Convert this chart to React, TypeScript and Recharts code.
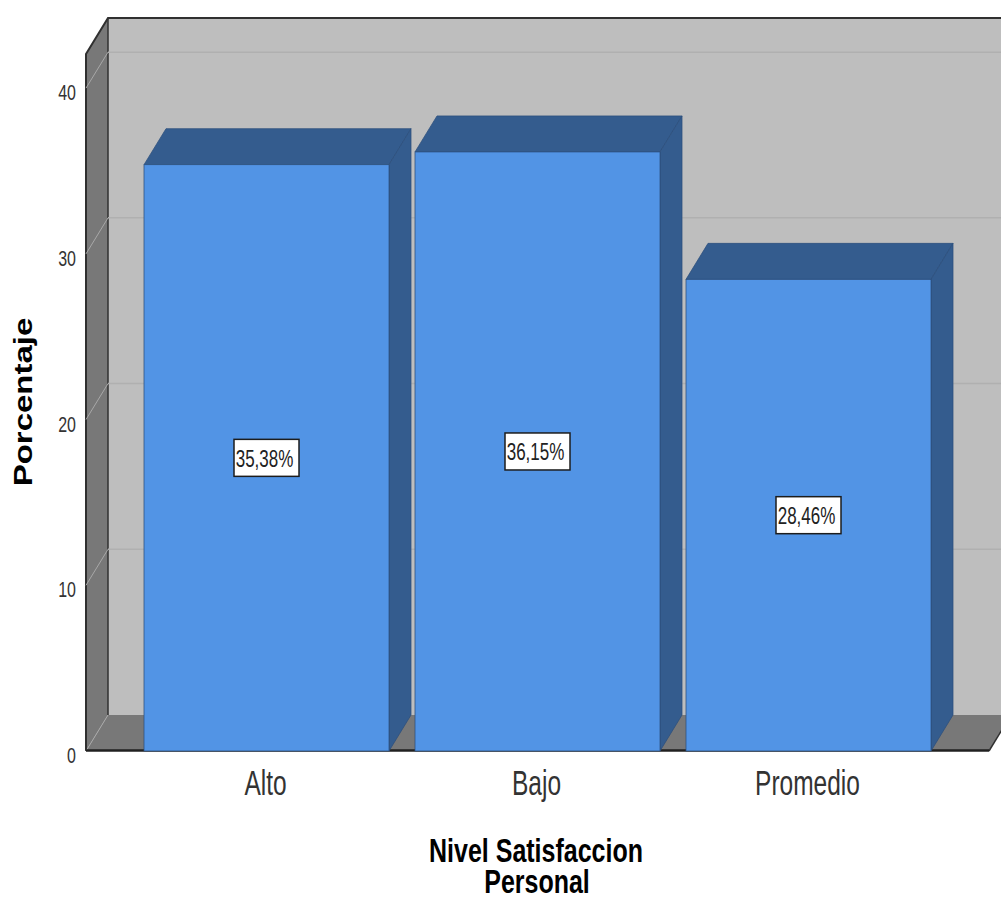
import { Bar, BarChart, ReferenceArea, XAxis, YAxis } from "recharts";

const categories = ["Alto", "Bajo", "Promedio"];
const porcentaje = [35.38, 36.15, 28.46];
const yTicks = [0, 10, 20, 30, 40];
const gridValues = [10, 20, 30, 40];

const FONT = "'Liberation Sans', Arial, sans-serif";
const DX = 22;
const DY = 36;
const PAD = 45;
const Y_MAX = 42.06;
const STRETCH = 1.42;
const TITLE_STRETCH = 1.34;

const data = categories.map((name, i) => ({ name, v: porcentaje[i] }));

// Back wall, side wall and floor of the fake 3D box. The reference area only spans
// the padded band range, so PAD is added back on both sides.
function Walls({ x: ax, y, width: aw, height }: any) {
  const x = ax - PAD;
  const width = aw + PAD * 2;
  const bottom = y + height;
  const right = x + width;
  return (
    <g>
      <rect x={x + DX} y={y - DY} width={width} height={height} fill="#BEBEBE" />
      <polygon points={`${x},${y} ${x + DX},${y - DY} ${x + DX},${bottom - DY} ${x},${bottom}`} fill="#787878" />
      <polygon points={`${x},${bottom} ${x + DX},${bottom - DY} ${right + DX},${bottom - DY} ${right},${bottom}`} fill="#787878" />
      <path d={`M${x},${bottom} V${y} L${x + DX},${y - DY} H${right + DX}`} fill="none" stroke="#303030" strokeWidth={2} />
      <line x1={x + DX} y1={y - DY} x2={x + DX} y2={bottom - DY} stroke="#303030" strokeWidth={1.5} />
      <line x1={x} y1={bottom} x2={x + DX} y2={bottom - DY} stroke="#A8A8A8" strokeWidth={1} />
      <line x1={right} y1={bottom} x2={right + DX} y2={bottom - DY} stroke="#303030" strokeWidth={1.5} />
      <line x1={x} y1={bottom - 0.5} x2={right} y2={bottom - 0.5} stroke="#202020" strokeWidth={2.5} />
    </g>
  );
}

// Grid line for the lower edge of a reference area, so it stays behind the bars
function GridOnWall({ x: ax, y, width: aw, height }: any) {
  const x = ax - PAD;
  const right = ax + aw + PAD;
  const gy = y + height;
  return (
    <g>
      <line x1={x} y1={gy} x2={x + DX} y2={gy - DY} stroke="#A8A8A8" strokeWidth={1} />
      <line x1={x + DX} y1={gy - DY} x2={right + DX} y2={gy - DY} stroke="#B0B0B0" strokeWidth={1.5} />
    </g>
  );
}

function Box3D({ x, y, width, height }: any) {
  const r = x + width;
  const b = y + height;
  return (
    <g stroke="#2C4F7C" strokeWidth={0.75}>
      <polygon points={`${x},${y} ${x + DX},${y - DY} ${r + DX},${y - DY} ${r},${y}`} fill="#345C8E" />
      <polygon points={`${r},${y} ${r + DX},${y - DY} ${r + DX},${b - DY} ${r},${b}`} fill="#345C8E" />
      <rect x={x} y={y} width={width} height={height} fill="#5294E5" />
    </g>
  );
}

function ValueBox({ x, y, width, height, value }: any) {
  const cx = x + width / 2;
  const cy = y + height / 2;
  return (
    <g>
      <rect x={cx - 32.5} y={cy - 18.5} width={65} height={37} fill="#fff" stroke="#1c1c1c" strokeWidth={1.5} />
      <g transform={`translate(${cx - 2},${cy + 9}) scale(1,${STRETCH})`}>
        <text textAnchor="middle" fontFamily={FONT} fontSize={17} fill="#222">
          {value.toFixed(2).replace(".", ",") + "%"}
        </text>
      </g>
    </g>
  );
}

function XTick({ x, payload }: any) {
  return (
    <g transform={`translate(${x - 1},795) scale(1,${STRETCH})`}>
      <text textAnchor="middle" fontFamily={FONT} fontSize={24.5} fill="#333">{payload.value}</text>
    </g>
  );
}

function YTick({ y, payload }: any) {
  return (
    <g transform={`translate(76,${y + 12}) scale(1,${STRETCH})`}>
      <text textAnchor="end" fontFamily={FONT} fontSize={16} fill="#333">{payload.value}</text>
    </g>
  );
}

function Titles() {
  return (
    <g fontFamily={FONT} fontWeight="bold" fill="#000">
      <g transform={`translate(536,862) scale(1,${TITLE_STRETCH})`}>
        <text textAnchor="middle" fontSize={25}>Nivel Satisfaccion</text>
      </g>
      <g transform={`translate(537,893) scale(1,${TITLE_STRETCH})`}>
        <text textAnchor="middle" fontSize={25}>Personal</text>
      </g>
      <g transform={`translate(32,402) rotate(-90) scale(1.27,1)`}>
        <text textAnchor="middle" fontSize={26}>Porcentaje</text>
      </g>
    </g>
  );
}

export default function App() {
  return (
    <div style={{ position: "absolute", left: 0, top: 0, width: 1001, height: 898, background: "#fff" }}>
      <BarChart
        width={1001}
        height={898}
        data={data}
        barSize={245}
        margin={{ top: 54, right: 12, bottom: 87, left: 40 }}
      >
        <XAxis
          dataKey="name"
          height={60}
          padding={{ left: PAD, right: PAD }}
          tick={<XTick />}
          tickLine={false}
          axisLine={false}
        />
        <YAxis width={46} domain={[0, Y_MAX]} ticks={yTicks} tick={<YTick />} tickLine={false} axisLine={false} />
        <ReferenceArea y1={0} y2={Y_MAX} ifOverflow="visible" shape={<Walls />} />
        {gridValues.map((v) => (
          <ReferenceArea key={v} y1={v} y2={Y_MAX} ifOverflow="visible" shape={<GridOnWall />} />
        ))}
        <Bar dataKey="v" isAnimationActive={false} shape={<Box3D />} label={<ValueBox />} />
        <Titles />
      </BarChart>
    </div>
  );
}
